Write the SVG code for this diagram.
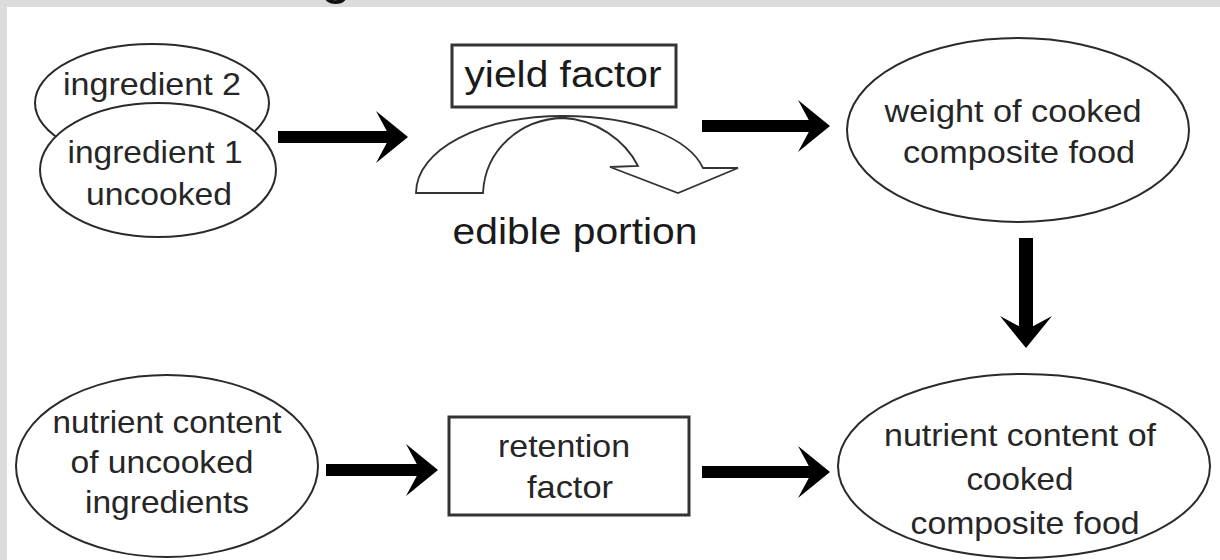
<svg xmlns="http://www.w3.org/2000/svg" width="1220" height="560" viewBox="0 0 1220 560">
<style>
.t{font-family:"Liberation Sans",Arial,sans-serif;font-size:32px;fill:#262626;text-anchor:middle}
.big{font-size:36px;fill:#1a1a1a}
.ell{fill:#fff;stroke:#2a2a2a;stroke-width:2}
.box{fill:#fff;stroke:#333;stroke-width:3}
.con{stroke:#000;stroke-width:12;fill:none}
.curve{fill:#fff;stroke:#333;stroke-width:1.8;stroke-linejoin:miter}
</style>
<defs>
<marker id="ah" viewBox="0 0 32 52" refX="20" refY="26" markerWidth="32" markerHeight="52" markerUnits="userSpaceOnUse" orient="auto">
<path d="M0,0 L32,26 L0,52 L14,26 Z" fill="#000"/>
</marker>
</defs>
<rect width="1220" height="560" fill="#dcdcdc"/>
<rect x="7" y="7" width="1213" height="553" fill="#fff"/>
<text class="t" x="336" y="-8" style="font-size:56px;fill:#111">g</text>

<g id="ingredient2">
<ellipse class="ell" cx="152" cy="103" rx="117" ry="59"/>
<text class="t" x="152" y="95" textLength="178" lengthAdjust="spacingAndGlyphs">ingredient 2</text>
</g>
<g id="ingredient1">
<ellipse class="ell" cx="158" cy="170" rx="118" ry="67"/>
<text class="t" x="155" y="163" textLength="175" lengthAdjust="spacingAndGlyphs">ingredient 1</text>
<text class="t" x="159" y="205" textLength="146" lengthAdjust="spacingAndGlyphs">uncooked</text>
</g>
<g id="yieldfactor">
<rect class="box" x="452" y="45" width="224" height="62"/>
<text class="t big" x="563" y="87" textLength="197" lengthAdjust="spacingAndGlyphs">yield factor</text>
</g>
<g id="edibleportion">
<path class="curve" d="M416,193 L483,193 C485,150 520,119 563,118 C595,119 625,140 638,166 L610,167 L678,193 L738,168 L703,168 C690,140 640,116 563,116 C480,116 416,150 416,193 Z"/>
<text class="t big" x="575" y="244" textLength="245" lengthAdjust="spacingAndGlyphs">edible portion</text>
</g>
<g id="weight">
<ellipse class="ell" cx="1018" cy="130" rx="171" ry="92"/>
<text class="t" x="1013" y="122" textLength="257" lengthAdjust="spacingAndGlyphs">weight of cooked</text>
<text class="t" x="1019" y="163" textLength="232" lengthAdjust="spacingAndGlyphs">composite food</text>
</g>
<g id="nutrientuncooked">
<ellipse class="ell" cx="167" cy="466" rx="151" ry="91"/>
<text class="t" x="167" y="433" textLength="229" lengthAdjust="spacingAndGlyphs">nutrient content</text>
<text class="t" x="162" y="473" textLength="183" lengthAdjust="spacingAndGlyphs">of uncooked</text>
<text class="t" x="167" y="513" textLength="164" lengthAdjust="spacingAndGlyphs">ingredients</text>
</g>
<g id="retention">
<rect class="box" x="449" y="417" width="240" height="98"/>
<text class="t" x="564" y="457" textLength="132" lengthAdjust="spacingAndGlyphs">retention</text>
<text class="t" x="570" y="498" textLength="86" lengthAdjust="spacingAndGlyphs">factor</text>
</g>
<g id="nutrientcooked">
<ellipse class="ell" cx="1024" cy="466" rx="186" ry="92"/>
<text class="t" x="1020" y="446" textLength="272" lengthAdjust="spacingAndGlyphs">nutrient content of</text>
<text class="t" x="1020" y="490" textLength="107" lengthAdjust="spacingAndGlyphs">cooked</text>
<text class="t" x="1025" y="534" textLength="229" lengthAdjust="spacingAndGlyphs">composite food</text>
</g>
<g id="connectors">
<line class="con" x1="278" y1="137" x2="396" y2="137" marker-end="url(#ah)"/>
<line class="con" x1="702" y1="126" x2="818" y2="126" marker-end="url(#ah)"/>
<line class="con" x1="1026" y1="238" x2="1026" y2="336" marker-end="url(#ah)" style="stroke-width:14"/>
<line class="con" x1="326" y1="470" x2="426" y2="470" marker-end="url(#ah)"/>
<line class="con" x1="702" y1="472" x2="818" y2="472" marker-end="url(#ah)"/>
</g>
</svg>
